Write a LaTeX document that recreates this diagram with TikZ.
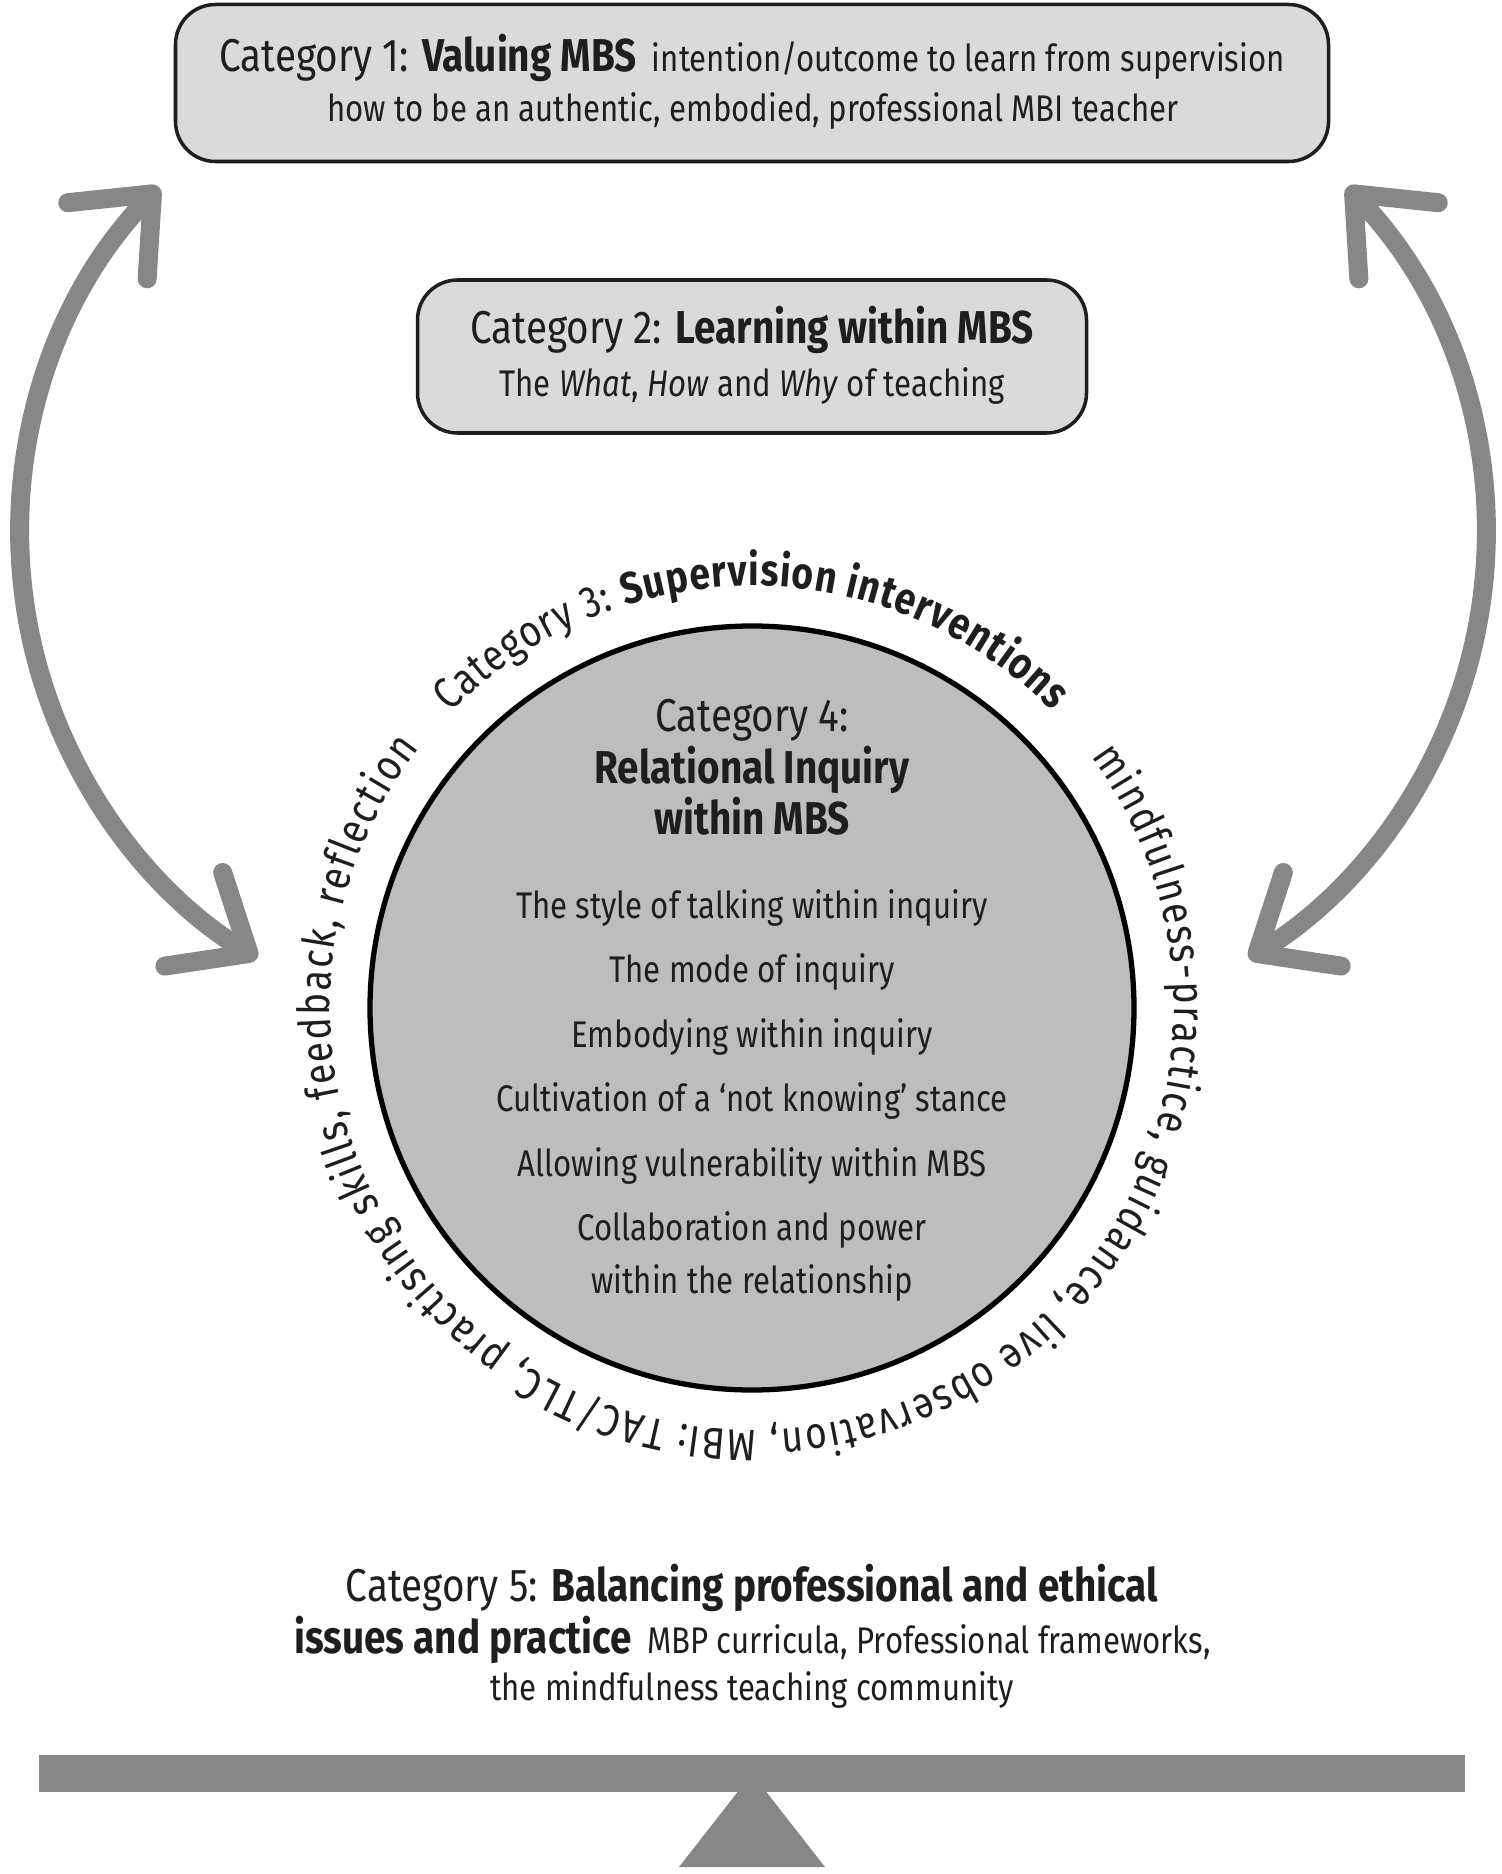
\documentclass[tikz,border=0pt]{standalone}
\usepackage{fontspec}
\setmainfont{Fira Sans}[FakeStretch=0.84]
\usepackage{tikz}
\usetikzlibrary{arrows.meta,positioning,decorations.text}
\definecolor{boxgray}{HTML}{DADADA}
\definecolor{circgray}{HTML}{BDBDBD}
\definecolor{arrowgray}{HTML}{878787}
\definecolor{inkgray}{HTML}{1E1E1E}
\newcommand{\hdfont}{\fontsize{13.1}{14.2}\selectfont}
\newcommand{\bdfont}{\fontsize{10.55}{14.2}\selectfont}
\newcommand{\arcsize}{\fontsize{12.6}{13}\selectfont}

\begin{document}
\begin{tikzpicture}[
  every node/.style={text=inkgray},
  catbox/.style={draw=inkgray, line width=1pt, rounded corners=4mm, fill=boxgray},
  linetxt/.style={anchor=base},
  itemtxt/.style={anchor=base, font=\bdfont},
  looparrow/.style={draw=arrowgray, line width=1.9mm, line cap=round,
    arrows={Straight Barb[length=6.5mm,width=11mm,round]-Straight Barb[length=6.5mm,width=11mm,round]}},
  arctext/.style={decorate, decoration={text along path, text align={fit to path}, text color=inkgray}},
]
  \useasboundingbox (0,0) rectangle (15.02,-18.74);

  % Category 1
  \node[catbox, minimum width=11.53cm, minimum height=1.57cm] (valbox) at (7.52,-0.83) {};
  \node[linetxt] (cat1a) at (7.52,-0.72)
    {{\hdfont Category 1: \textbf{Valuing MBS}}\ \ {\bdfont intention/outcome to learn from supervision}};
  \node[linetxt, font=\bdfont] (cat1b) at (7.53,-1.22)
    {how to be an authentic, embodied, professional MBI teacher};

  % Category 2
  \node[catbox, minimum width=6.69cm, minimum height=1.53cm] (learnbox) at (7.52,-3.565) {};
  \node[linetxt, font=\hdfont] (cat2a) at (7.52,-3.44) {Category 2: \textbf{Learning within MBS}};
  \node[linetxt, font=\bdfont] (cat2b) at (7.52,-3.97)
    {The \textit{What}, \textit{How} and \textit{Why} of teaching};

  % Category 4 (circle)
  \node[circle, draw=black, line width=1.5pt, fill=circgray, minimum size=7.64cm] (inqcirc) at (7.52,-10.08) {};
  \node[linetxt, font=\hdfont] (cat4a) at (7.52,-7.31) {Category 4:};
  \node[linetxt, font=\hdfont\bfseries] (cat4b) at (7.52,-7.83) {Relational Inquiry};
  \node[linetxt, font=\hdfont\bfseries] (cat4c) at (7.52,-8.34) {within MBS};
  \node[itemtxt] (it1) at (7.52,-9.18) {The style of talking within inquiry};
  \node[itemtxt] (it2) at (7.52,-9.82) {The mode of inquiry};
  \node[itemtxt] (it3) at (7.52,-10.47) {Embodying within inquiry};
  \node[itemtxt] (it4) at (7.52,-11.11) {Cultivation of a `not knowing' stance};
  \node[itemtxt] (it5) at (7.52,-11.76) {Allowing vulnerability within MBS};
  \node[itemtxt] (it6) at (7.52,-12.40) {Collaboration and power};
  \node[itemtxt] (it7) at (7.52,-12.93) {within the relationship};

  % Category 3 (text round the circle)
  \path[arctext, decoration={text={|\arcsize|Category 3: |\arcsize\bfseries|Supervision interventions}}]
    (inqcirc.center) ++(135.6:4.22) arc[start angle=135.6, end angle=44.7, radius=4.22];
  \path[arctext, decoration={text={|\arcsize|mindfulness-practice, guidance, live observation, MBI: TAC/TLC, practising skills, feedback, reflection}}]
    (inqcirc.center) ++(36.6:4.22) arc[start angle=36.6, end angle=-218, radius=4.22];

  % loop arrows
  \coordinate (ltop) at (1.59,-1.87);
  \coordinate (rtop) at (13.47,-1.87);
  \draw[looparrow] (ltop) arc[start angle=136.2, end angle=238.3, radius=5];
  \draw[looparrow] (rtop) arc[start angle=43.8, end angle=-58.3, radius=5];

  % Category 5
  \node[linetxt, font=\hdfont] (cat5a) at (7.52,-16.01) {Category 5: \textbf{Balancing professional and ethical}};
  \node[linetxt] (cat5b) at (7.525,-16.53)
    {{\hdfont\textbf{issues and practice}}\ \ {\bdfont MBP curricula, Professional frameworks,}};
  \node[linetxt, font=\bdfont] (cat5c) at (7.52,-17.00) {the mindfulness teaching community};

  % balance
  \node[fill=arrowgray, inner sep=0pt, minimum width=14.26cm, minimum height=0.37cm] (beam) at (7.52,-17.735) {};
  \fill[arrowgray] (beam.center) -- (8.25,-18.67) -- (6.79,-18.67) -- cycle;
\end{tikzpicture}
\end{document}
